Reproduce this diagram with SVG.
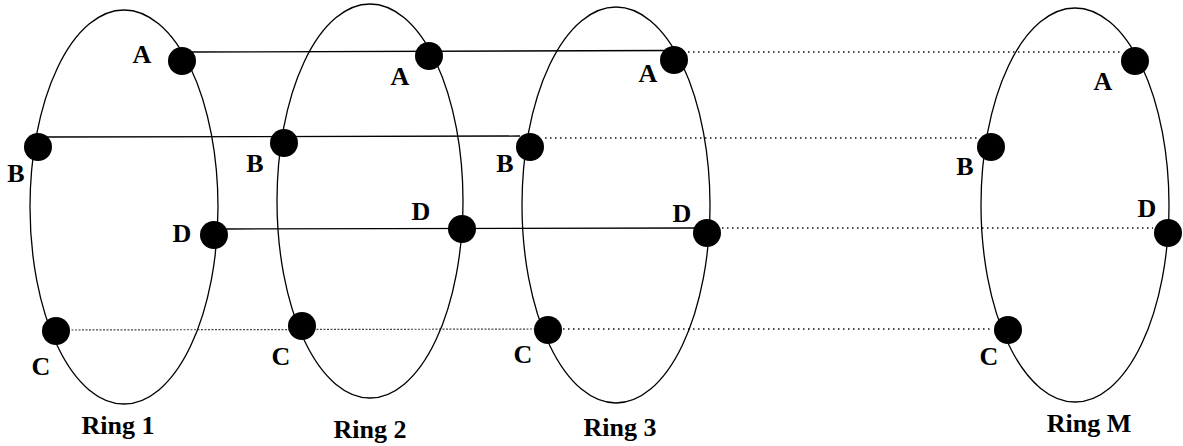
<svg xmlns="http://www.w3.org/2000/svg" width="1183" height="446" viewBox="0 0 1183 446">
<style>
.ring{fill:none;stroke:#000;stroke-width:1.3}
.node{fill:#000}
.lbl{font-family:"Liberation Serif",serif;font-weight:bold;font-size:26px;fill:#000;text-anchor:middle}
.rl{font-family:"Liberation Serif",serif;font-weight:bold;font-size:26px;fill:#000;text-anchor:middle}
.solid{stroke:#000;stroke-width:1.3;fill:none}
.dot{stroke:#111;stroke-width:1.4;stroke-dasharray:1.5 3.5;fill:none}
.dense{stroke:#444;stroke-width:1.2;stroke-dasharray:2 1.5;fill:none}
</style>
<rect width="1183" height="446" fill="#fff"/>
<g id="connectors">
<line class="solid" x1="190" y1="52" x2="668" y2="50.5"/>
<line class="dot" x1="688" y1="52" x2="1122" y2="52"/>
<line class="solid" x1="45" y1="137" x2="520" y2="136"/>
<line class="dot" x1="545" y1="138" x2="977" y2="138"/>
<line class="solid" x1="225" y1="229" x2="695" y2="228"/>
<line class="dot" x1="722" y1="228" x2="1153" y2="228"/>
<line class="dense" x1="68" y1="330" x2="540" y2="329"/>
<line class="dot" x1="563" y1="329" x2="993" y2="329"/>
</g>
<g id="ring1">
<ellipse class="ring" cx="124" cy="207" rx="94" ry="197"/>
<circle class="node" cx="182" cy="61" r="14"/>
<circle class="node" cx="38" cy="147" r="14"/>
<circle class="node" cx="214" cy="235" r="14"/>
<circle class="node" cx="56" cy="331" r="14"/>
<text class="lbl" x="142" y="63">A</text>
<text class="lbl" x="16" y="182">B</text>
<text class="lbl" x="182" y="242">D</text>
<text class="lbl" x="41" y="375">C</text>
<text class="rl" x="118" y="434">Ring 1</text>
</g>
<g id="ring2">
<ellipse class="ring" cx="370" cy="201" rx="93" ry="197"/>
<circle class="node" cx="429" cy="56" r="14"/>
<circle class="node" cx="284" cy="143" r="14"/>
<circle class="node" cx="462" cy="229" r="14"/>
<circle class="node" cx="302" cy="326" r="14"/>
<text class="lbl" x="400" y="85">A</text>
<text class="lbl" x="255" y="172">B</text>
<text class="lbl" x="421" y="220">D</text>
<text class="lbl" x="281" y="365">C</text>
<text class="rl" x="370" y="438">Ring 2</text>
</g>
<g id="ring3">
<ellipse class="ring" cx="616" cy="205" rx="94" ry="198"/>
<circle class="node" cx="674" cy="60" r="14"/>
<circle class="node" cx="530" cy="147" r="14"/>
<circle class="node" cx="707" cy="233" r="14"/>
<circle class="node" cx="548" cy="330" r="14"/>
<text class="lbl" x="648" y="82">A</text>
<text class="lbl" x="505" y="172">B</text>
<text class="lbl" x="682" y="222">D</text>
<text class="lbl" x="523" y="363">C</text>
<text class="rl" x="620" y="436">Ring 3</text>
</g>
<g id="ringM">
<ellipse class="ring" cx="1075" cy="205" rx="94" ry="197"/>
<circle class="node" cx="1135" cy="61" r="14"/>
<circle class="node" cx="991" cy="147" r="14"/>
<circle class="node" cx="1168" cy="233" r="14"/>
<circle class="node" cx="1008" cy="330" r="14"/>
<text class="lbl" x="1103" y="90">A</text>
<text class="lbl" x="965" y="175">B</text>
<text class="lbl" x="1147" y="217">D</text>
<text class="lbl" x="989" y="365">C</text>
<text class="rl" x="1089" y="432">Ring M</text>
</g>
</svg>
